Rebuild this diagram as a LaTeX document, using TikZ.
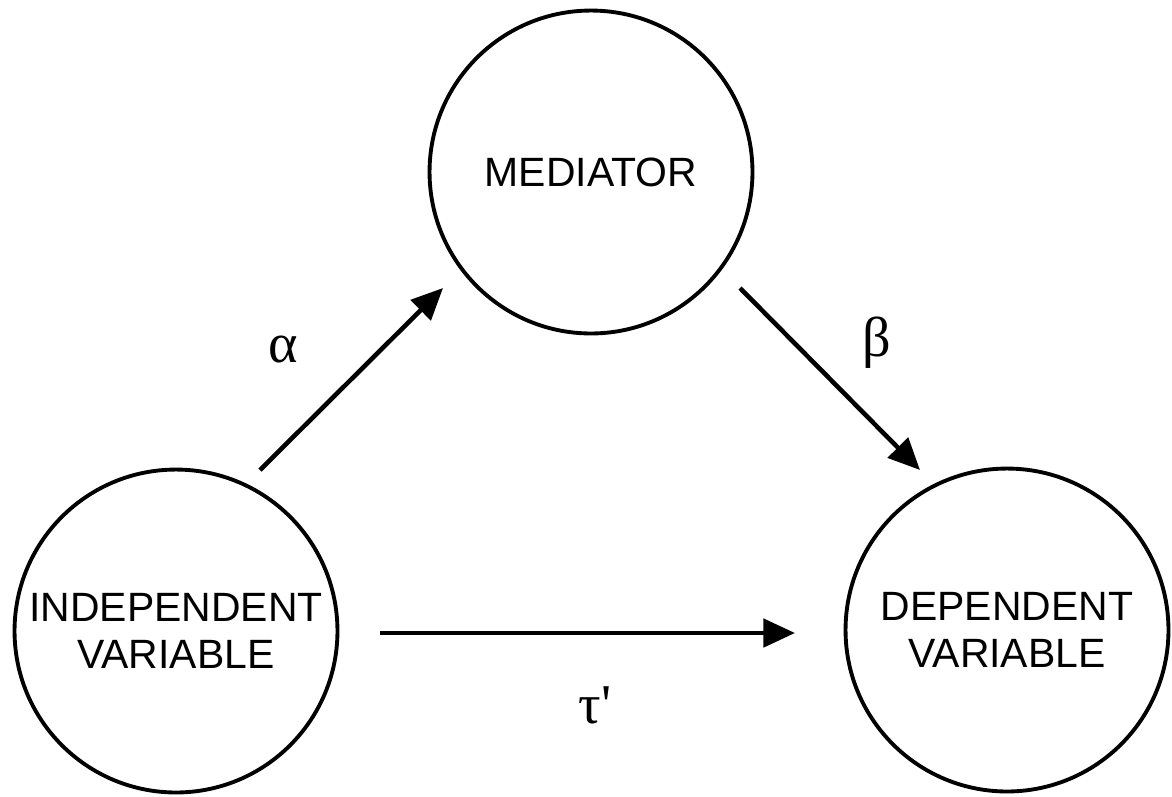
\documentclass[tikz,border=0pt]{standalone}
\usepackage{fontspec}
\setmainfont{Liberation Sans}
\newfontfamily\greekfont{Liberation Serif}
\usetikzlibrary{arrows.meta}
\tikzset{
  var/.style={circle, draw=black, line width=2.2pt, minimum size=6.46cm, inner sep=0pt,
    align=center, font=\fontsize{23.3}{26.6}\selectfont},
  path/.style={line width=2.6pt, -{Triangle[length=18pt,width=16pt]}},
  coef/.style={font=\greekfont\fontsize{32}{36}\selectfont, inner sep=0pt}
}
\begin{document}
\begin{tikzpicture}[x=0.02cm,y=-0.02cm]
\useasboundingbox (0,0) rectangle (1172,796);
\node[var] (med) at (591,172) {MEDIATOR};
\node[var] (iv) at (176,631) {INDEPENDENT\\VARIABLE};
\node[var] (dv) at (1007,630) {DEPENDENT\\VARIABLE};
\coordinate (a0) at (260,470);
\coordinate (a1) at (443,288);
\coordinate (b0) at (740,288);
\coordinate (b1) at (920,470);
\coordinate (c0) at (380,633);
\coordinate (c1) at (795,633);
\draw[path] (a0) -- (a1);
\draw[path] (b0) -- (b1);
\draw[path] (c0) -- (c1);
\node[coef] (alpha) at (283,350) {α};
\node[coef] (beta) at (877,343) {β};
\node[coef] (tau) at (595,705) {τ\char"27};
\end{tikzpicture}
\end{document}
